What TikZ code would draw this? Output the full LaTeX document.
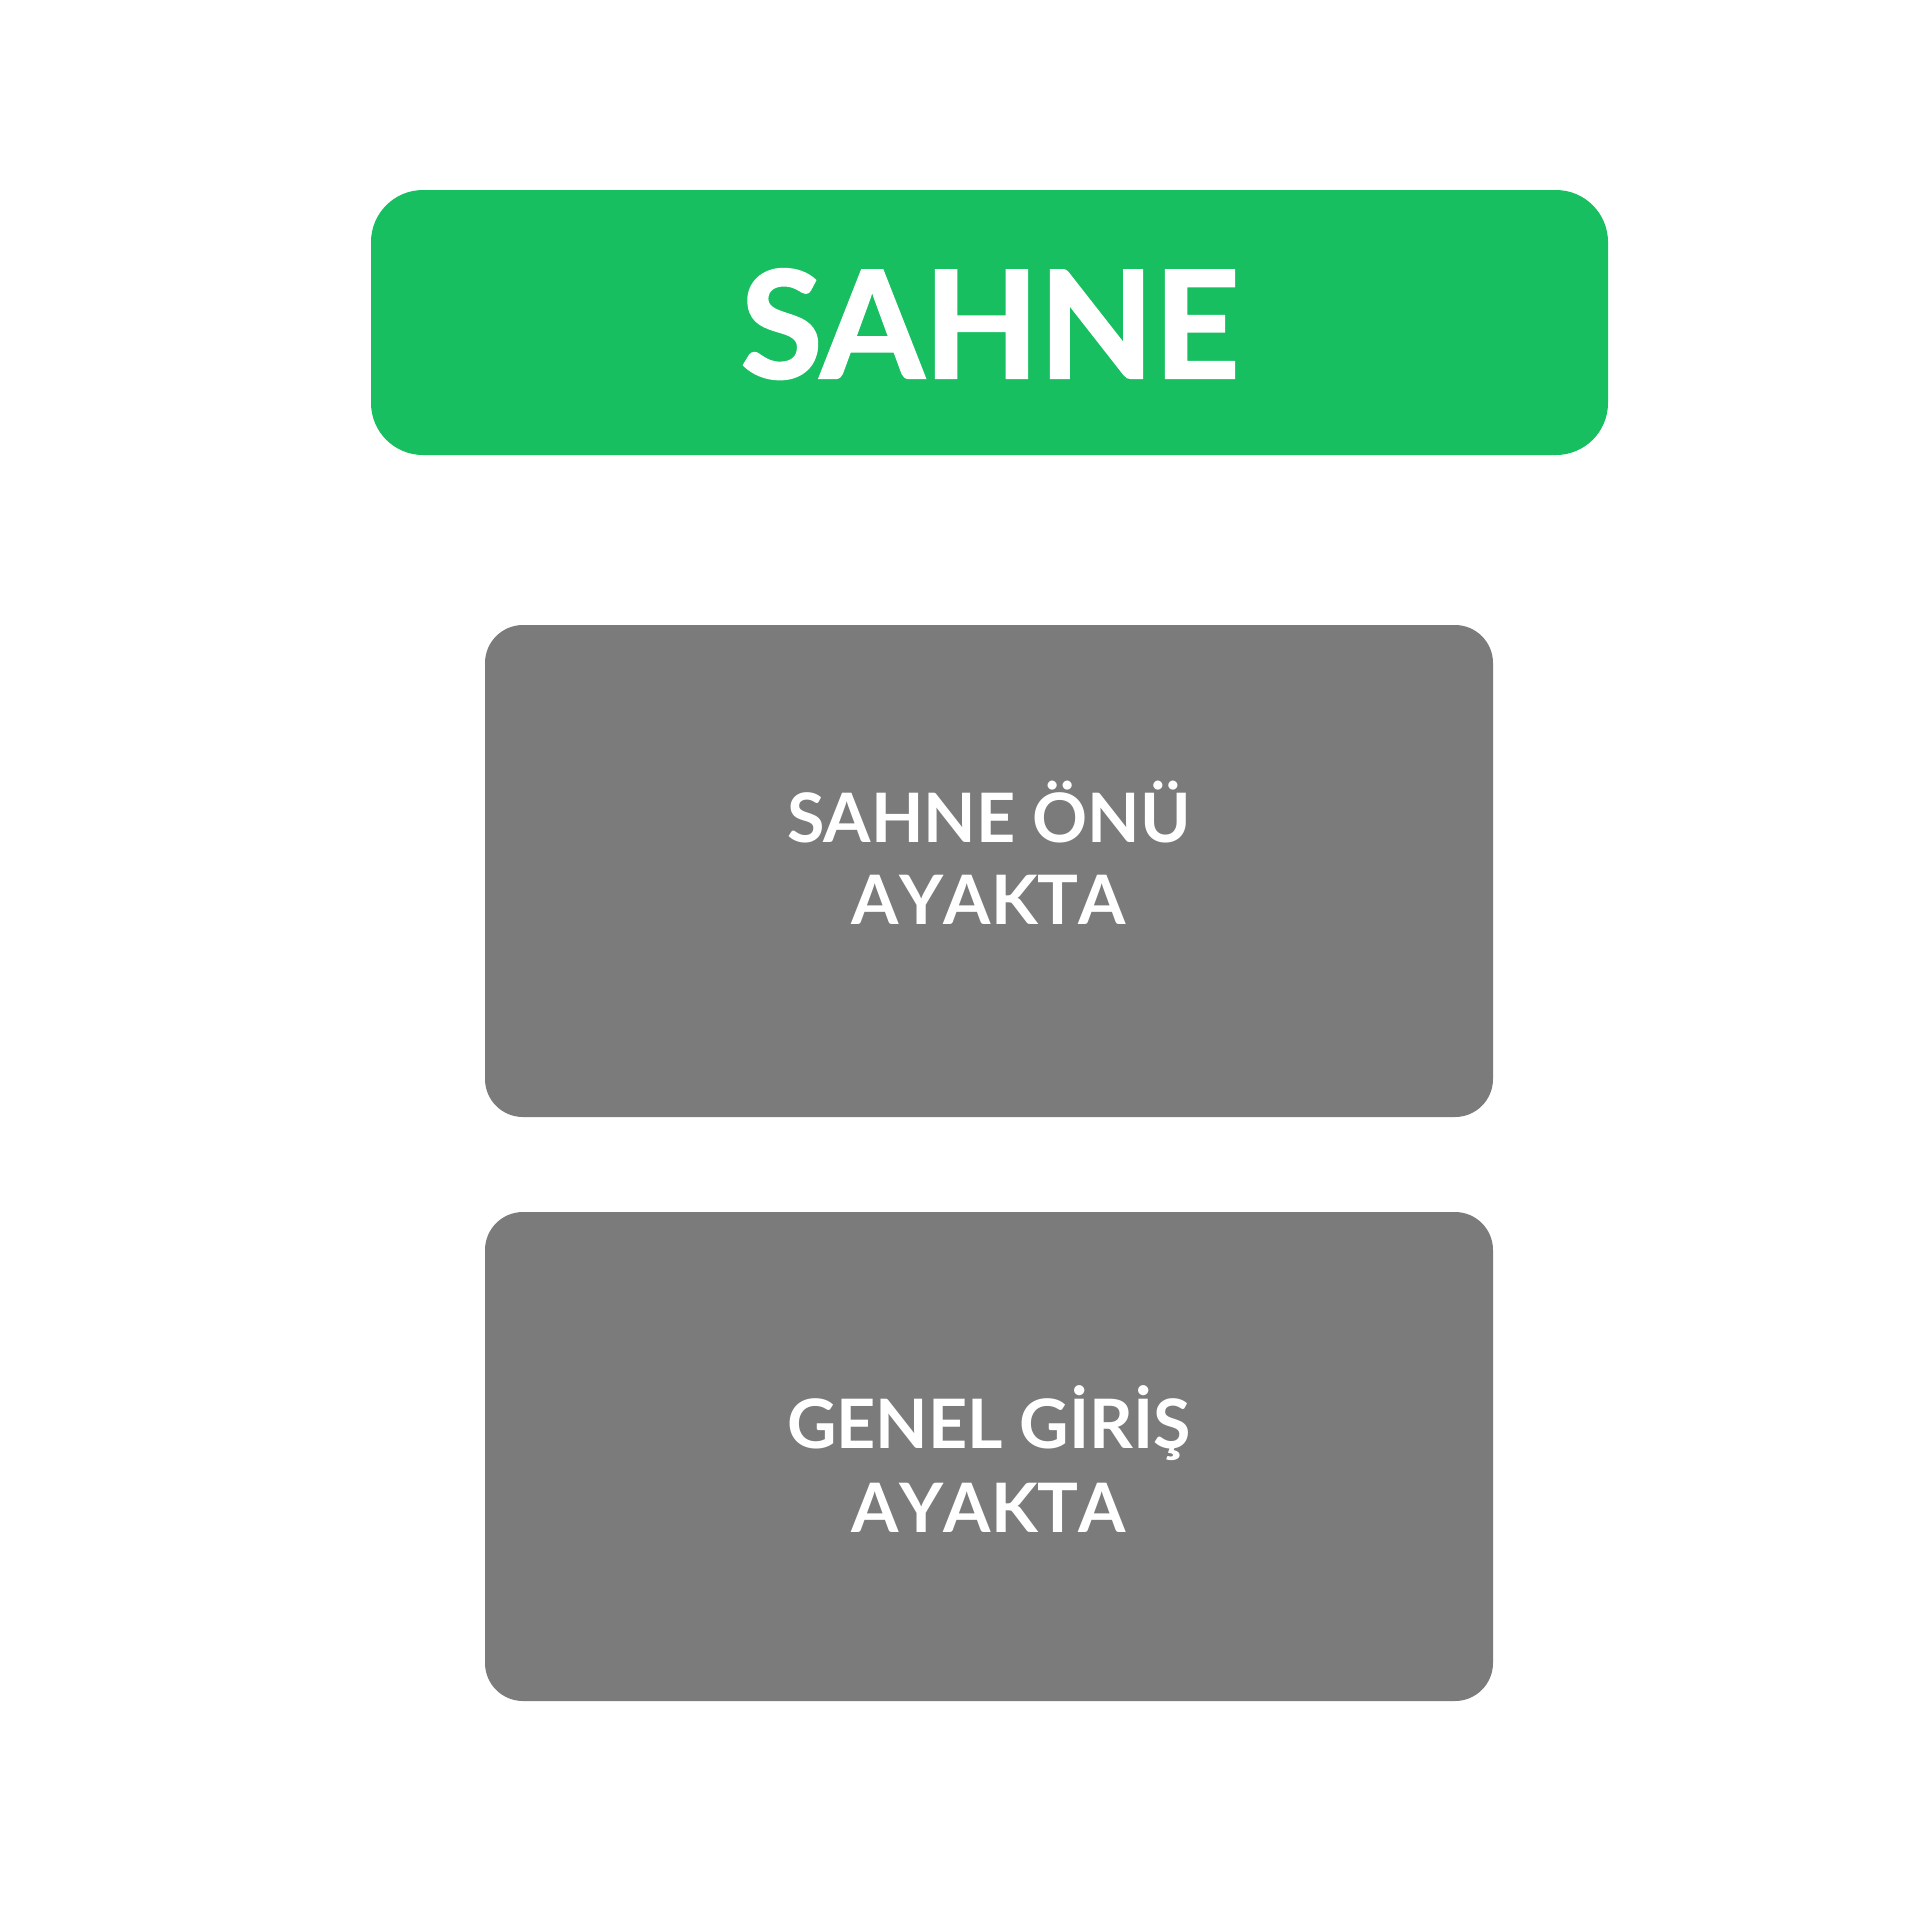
\documentclass[tikz,border=0pt]{standalone}
\usepackage{fontspec}
\setmainfont{Lato}
\definecolor{stagegreen}{RGB}{23,191,97}
\definecolor{zonegray}{RGB}{123,123,123}
\begin{document}
\begin{tikzpicture}[x=0.01cm,y=-0.01cm,
  stagebox/.style={fill=stagegreen,draw=none,rounded corners=0.52cm},
  zonebox/.style={fill=zonegray,draw=none,rounded corners=0.38cm},
  titletext/.style={text=white,font=\fontsize{42.4}{44}\selectfont\bfseries\addfontfeatures{FakeBold=1.6},anchor=base,inner sep=0pt},
  zonetext/.style={text=white,font=\fontsize{19.4}{21}\selectfont\bfseries,anchor=base,inner sep=0pt},
  zonetextnk/.style={zonetext,font=\fontsize{19.4}{21}\selectfont\bfseries\addfontfeatures{Kerning=Off}}]
\fill[white] (0,0) rectangle (1920,1920);
\useasboundingbox (0,0) rectangle (1920,1920);
\path[stagebox] (371,190) rectangle (1608,455);
\path[zonebox] (485,625) rectangle (1493,1117);
\path[zonebox] (485,1212) rectangle (1493,1701);
\node[titletext] (title) at (990,378) {SAHNE};
\node[zonetext] (z1a) at (989,842) {SAHNE ÖNÜ};
\node[zonetextnk] (z1b) at (989,924) {AYAKTA};
\node[zonetext] (z2a) at (989,1448) {GENEL GİRİŞ};
\node[zonetextnk] (z2b) at (989,1532) {AYAKTA};
\end{tikzpicture}
\end{document}
